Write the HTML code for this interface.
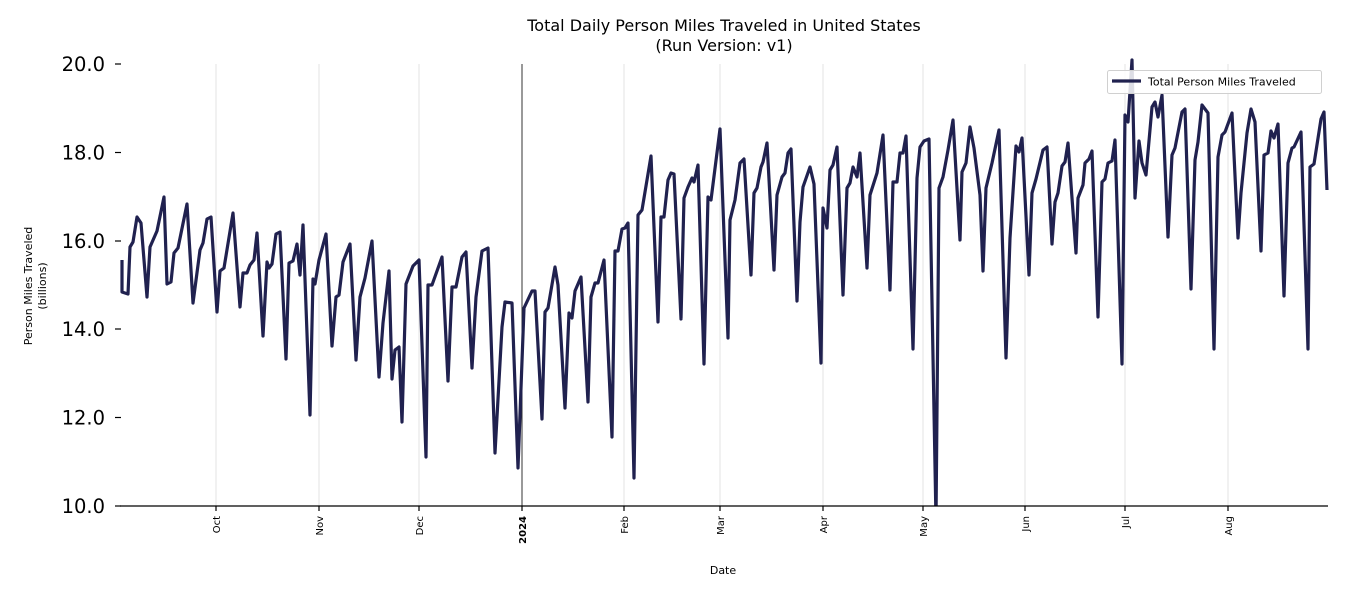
<!DOCTYPE html>
<html><head><meta charset="utf-8"><style>
body{margin:0;background:#fff;}
svg text{font-family:"DejaVu Sans","Liberation Sans",sans-serif;fill:#000;}
</style></head><body>
<svg width="1350" height="600" viewBox="0 0 1350 600" xmlns="http://www.w3.org/2000/svg">
<rect width="1350" height="600" fill="#fff"/>
<text x="724" y="31" font-size="16" text-anchor="middle">Total Daily Person Miles Traveled in United States</text>
<text x="724" y="51" font-size="16" text-anchor="middle">(Run Version: v1)</text>
<g stroke="#e3e3e3" stroke-width="1">
<line x1="216" y1="64" x2="216" y2="506"/><line x1="319" y1="64" x2="319" y2="506"/><line x1="419" y1="64" x2="419" y2="506"/><line x1="624" y1="64" x2="624" y2="506"/><line x1="720" y1="64" x2="720" y2="506"/><line x1="823" y1="64" x2="823" y2="506"/><line x1="923" y1="64" x2="923" y2="506"/><line x1="1025" y1="64" x2="1025" y2="506"/><line x1="1125" y1="64" x2="1125" y2="506"/><line x1="1228" y1="64" x2="1228" y2="506"/>
</g>
<line x1="522" y1="64" x2="522" y2="506" stroke="#333" stroke-width="1"/>
<defs><clipPath id="c"><rect x="118" y="58" width="1212" height="448"/></clipPath></defs>
<polyline clip-path="url(#c)" fill="none" stroke="#20214f" stroke-width="3.2" stroke-linejoin="round" points="122,260 122,292 128,294 130,247 133,242 137,217 141,223 147,297 150,247 157,231 164,197 167,284 171,282 174,253 178,248 187,204 193,303 200,250 203,243 207,219 211,217 217,312 220,271 224,268 233,213 240,307 243,273 247,273 250,265 254,260 257,233 263,336 267,262 269,268 272,264 276,234 280,232 286,359 289,263 293,261 297,244 300,275 303,225 310,415 313,279 315,284 319,260 326,234 332,346 336,297 339,295 343,262 350,244 356,360 360,297 365,278 372,241 379,377 383,323 389,271 392,379 395,350 399,347 402,422 406,284 413,266 419,260 426,457 428,285 432,285 442,257 448,381 452,287 456,287 462,257 466,252 472,368 476,297 482,251 488,248 495,453 502,327 505,302 512,303 518,468 524,308 532,291 535,291 542,419 545,312 548,308 555,267 558,285 565,408 569,313 572,318 575,291 581,277 588,402 591,297 595,283 598,283 604,260 612,437 615,251 618,251 622,229 625,228 628,223 634,478 638,215 642,210 651,156 658,322 661,217 664,217 668,180 671,173 674,174 681,319 684,198 688,187 692,178 694,182 698,165 704,364 708,197 711,200 720,129 728,338 730,220 735,200 740,163 744,159 751,275 754,193 757,188 761,167 763,162 767,143 774,270 777,195 782,177 785,173 788,153 791,149 797,301 800,222 803,187 810,167 814,184 821,363 823,208 827,228 830,170 833,165 837,147 843,295 847,188 850,183 853,167 857,177 860,153 867,268 870,195 877,173 883,135 890,290 893,182 897,182 900,153 903,153 906,136 913,349 917,178 920,147 924,141 929,139 936,520 939,188 943,177 948,150 953,120 960,240 962,172 966,163 970,127 974,148 980,195 983,271 986,188 992,163 999,130 1006,358 1010,238 1016,146 1019,152 1022,138 1029,275 1032,193 1036,179 1043,150 1047,147 1052,244 1055,202 1058,193 1062,166 1065,162 1068,143 1076,253 1078,198 1083,185 1085,163 1089,159 1092,151 1098,317 1102,182 1105,179 1108,163 1112,161 1115,140 1122,364 1125,115 1128,122 1132,60 1135,198 1139,141 1142,163 1146,175 1152,107 1155,102 1158,117 1162,95 1168,237 1172,155 1175,148 1182,112 1185,109 1191,289 1195,160 1198,142 1202,105 1208,113 1214,349 1218,157 1222,135 1225,132 1232,113 1238,238 1241,193 1247,133 1251,109 1255,122 1261,251 1264,155 1268,153 1271,131 1274,138 1278,124 1284,296 1288,163 1292,148 1294,147 1301,132 1308,349 1310,167 1314,164 1321,119 1324,112 1327,190"/>
<line x1="120" y1="506" x2="1328" y2="506" stroke="#000" stroke-width="1.2"/>
<g stroke="#000" stroke-width="1.2">
<line x1="115" y1="64" x2="121" y2="64"/><line x1="115" y1="152.5" x2="121" y2="152.5"/><line x1="115" y1="241" x2="121" y2="241"/><line x1="115" y1="329" x2="121" y2="329"/><line x1="115" y1="417.5" x2="121" y2="417.5"/><line x1="115" y1="506" x2="121" y2="506"/>
<line x1="216" y1="506" x2="216" y2="511"/><line x1="319" y1="506" x2="319" y2="511"/><line x1="419" y1="506" x2="419" y2="511"/><line x1="522" y1="506" x2="522" y2="511"/><line x1="624" y1="506" x2="624" y2="511"/><line x1="720" y1="506" x2="720" y2="511"/><line x1="823" y1="506" x2="823" y2="511"/><line x1="923" y1="506" x2="923" y2="511"/><line x1="1025" y1="506" x2="1025" y2="511"/><line x1="1125" y1="506" x2="1125" y2="511"/><line x1="1228" y1="506" x2="1228" y2="511"/>
</g>
<g font-size="19.5" text-anchor="end">
<text x="105" y="71">20.0</text><text x="105" y="159.5">18.0</text><text x="105" y="248">16.0</text><text x="105" y="336">14.0</text><text x="105" y="424.5">12.0</text><text x="105" y="513">10.0</text>
</g>
<g font-size="10" text-anchor="end">
<text transform="translate(220,516) rotate(-90)">Oct</text>
<text transform="translate(323,516) rotate(-90)">Nov</text>
<text transform="translate(423,516) rotate(-90)">Dec</text>
<text transform="translate(526,516) rotate(-90)" font-weight="bold">2024</text>
<text transform="translate(628,516) rotate(-90)">Feb</text>
<text transform="translate(724,516) rotate(-90)">Mar</text>
<text transform="translate(827,516) rotate(-90)">Apr</text>
<text transform="translate(927,516) rotate(-90)">May</text>
<text transform="translate(1029,516) rotate(-90)">Jun</text>
<text transform="translate(1129,516) rotate(-90)">Jul</text>
<text transform="translate(1232,516) rotate(-90)">Aug</text>
</g>
<text x="723" y="574" font-size="11" text-anchor="middle">Date</text>
<g font-size="11" text-anchor="middle">
<text transform="translate(32,286) rotate(-90)">Person Miles Traveled</text>
<text transform="translate(46,286) rotate(-90)">(billions)</text>
</g>
<rect x="1107.5" y="70.5" width="214" height="23" rx="2" fill="#fff" fill-opacity="0.85" stroke="#d0d0d0"/>
<line x1="1112" y1="81" x2="1141" y2="81" stroke="#20214f" stroke-width="3.2"/>
<text x="1148" y="85.5" font-size="11">Total Person Miles Traveled</text>
</svg>
</body></html>
